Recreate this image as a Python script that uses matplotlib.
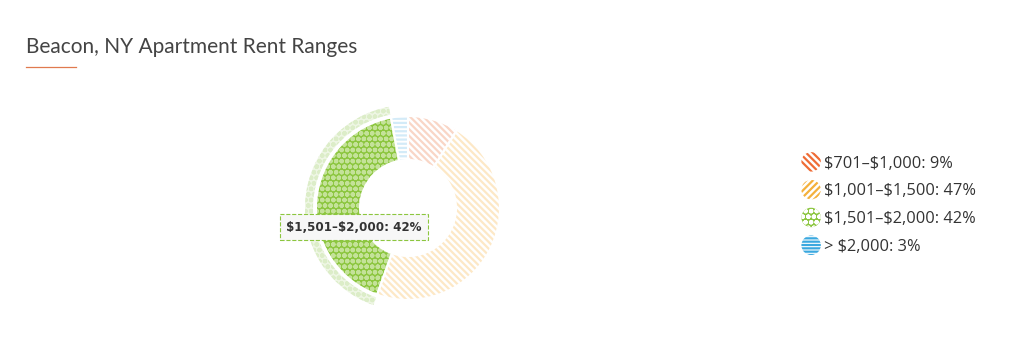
import matplotlib
matplotlib.use("Agg")
import matplotlib.pyplot as plt
from matplotlib.patches import Patch, Circle
from matplotlib.legend_handler import HandlerPatch
from matplotlib.lines import Line2D

# data
labels = ["$701\u2013$1,000", "$1,001\u2013$1,500", "$1,501\u2013$2,000", "> $2,000"]
shares = [9, 47, 42, 3]
active = 2  # hovered slice

full_colors = ["#ef6c35", "#f4b13c", "#8cc63f", "#3aa8df"]
faded_colors = ["#f9d6c6", "#fde8c6", "#dcedc8", "#d3ebf8"]
hatches = ["\\" * 5, "\\" * 5, "ooo", "-" * 4]
legend_hatches = ["\\" * 5, "/" * 5, "ooo", "-" * 5]

W, H = 1028, 355
plt.rcParams["hatch.linewidth"] = 1.6
fig = plt.figure(figsize=(W / 100, H / 100), dpi=100)
fig.patch.set_facecolor("white")

# title + underline
fig.text(26 / W, 1 - 47 / H, "Beacon, NY Apartment Rent Ranges", fontsize=15,
         color="#444444", family="Lato", va="center", ha="left", parse_math=False)
fig.add_artist(Line2D([26 / W, 76 / W], [1 - 67 / H, 1 - 67 / H], color="#e07a4f", lw=0.9))

# donut axes, 1 data unit = 1 px
cx, cy, half = 408, 208, 120
ax = fig.add_axes([(cx - half) / W, 1 - (cy + half) / H, 2 * half / W, 2 * half / H])

R, width = 92, 44
face = ["white" if i != active else full_colors[i] for i in range(len(shares))]
hcol = [faded_colors[i] if i != active else "#c4e299" for i in range(len(shares))]
wedges, _ = ax.pie(shares, radius=R, startangle=90, counterclock=False,
                   wedgeprops=dict(width=width, linewidth=0), colors=face)
for i, w in enumerate(wedges):
    w.set_edgecolor(hcol[i])
    w.set_hatch(hatches[i])
    w.set_linewidth(0)
# white separators
ax.pie(shares, radius=R, startangle=90, counterclock=False,
       wedgeprops=dict(width=width, linewidth=1.5, edgecolor="white", facecolor="none"))

# hover halo around the active slice
halo_face = ["none"] * len(shares)
halo_face[active] = "#eef6e4"
halo, _ = ax.pie(shares, radius=103, startangle=90, counterclock=False,
                 wedgeprops=dict(width=8, linewidth=0), colors=halo_face)
for i, w in enumerate(halo):
    if i == active:
        w.set_edgecolor(faded_colors[i])
        w.set_hatch("ooo")
    else:
        w.set_visible(False)

ax.set_xlim(-half, half)
ax.set_ylim(-half, half)
ax.set_aspect("equal")
ax.axis("off")

# tooltip
ax.text(354 - cx, cy - 227, f"{labels[active]}: {shares[active]}%", fontsize=8.6,
        fontweight="bold", color="#333333", ha="center", va="center", parse_math=False,
        bbox=dict(boxstyle="square,pad=0.55", facecolor="#f7f7f7",
                  edgecolor=full_colors[active], linestyle="--", linewidth=0.8))


class HandlerCircle(HandlerPatch):
    def create_artists(self, legend, orig_handle, xdescent, ydescent, width, height, fontsize, trans):
        r = 7
        c = Circle((width / 2 - xdescent, height / 2 - ydescent), r)
        self.update_prop(c, orig_handle, legend)
        c.set_transform(trans)
        c.set_linewidth(0)
        return [c]


handles = []
for i in range(len(shares)):
    fc = "white" if i != active else full_colors[i]
    ec = full_colors[i] if i != active else "white"
    handles.append(Patch(facecolor=fc, edgecolor=ec, hatch=legend_hatches[i], linewidth=0))
leg_labels = [f"{l}: {s}%".replace("$", r"\$") for l, s in zip(labels, shares)]
leg = fig.legend(handles, leg_labels, loc="upper left", bbox_to_anchor=(798 / W, 1 - 149 / H),
                 frameon=False, handlelength=0.8, handleheight=0.8,
                 handletextpad=0.4, labelspacing=0.72, borderaxespad=0,
                 handler_map={Patch: HandlerCircle()}, prop={"family": "Open Sans", "size": 11.8})
for t in leg.get_texts():
    t.set_color("#333333")

fig.savefig("out.png", dpi=100, facecolor="white")
